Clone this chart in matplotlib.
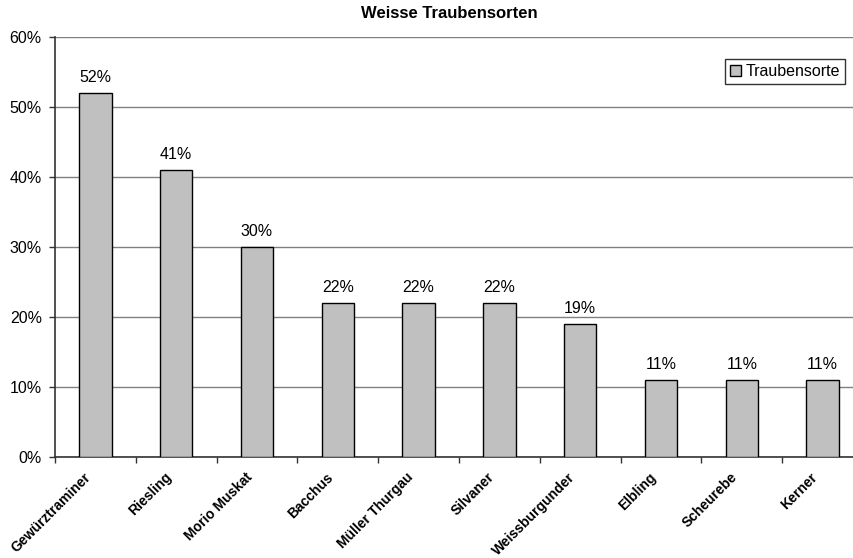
import matplotlib.pyplot as plt
from matplotlib.ticker import FixedLocator, MultipleLocator, FuncFormatter, NullFormatter
from matplotlib.transforms import offset_copy
import numpy as np

plt.rcParams['font.family'] = ['Liberation Sans', 'DejaVu Sans']

sorten = ['Gewürztraminer', 'Riesling', 'Morio Muskat', 'Bacchus', 'Müller Thurgau',
          'Silvaner', 'Weissburgunder', 'Elbling', 'Scheurebe', 'Kerner']
anteil = [52, 41, 30, 22, 22, 22, 19, 11, 11, 11]
serie = 'Traubensorte'
titel = 'Weisse Traubensorten'

fig = plt.figure(figsize=(8.54, 5.58), dpi=100)
ax = fig.add_axes([0.0644, 0.181, 0.9461, 0.7527])

x = np.arange(len(sorten))
ax.bar(x, anteil, width=0.4, color='#C0C0C0', edgecolor='black',
       linewidth=1.0, label=serie, zorder=3)

for xi, v in zip(x, anteil):
    ax.text(xi, v + 1.6, f'{v}%', ha='center', va='baseline', fontsize=11.5)

ax.set_xlim(-0.5, len(sorten) - 0.5)
ax.set_ylim(0, 60)
ax.yaxis.set_major_locator(MultipleLocator(10))
ax.yaxis.set_major_formatter(FuncFormatter(lambda v, p: f'{int(v)}%'))
ax.grid(axis='y', color='#808080', linewidth=1.0, zorder=0)

# category ticks sit between the bars
ax.xaxis.set_major_locator(FixedLocator(np.arange(-0.5, len(sorten), 1.0)))
ax.xaxis.set_major_formatter(NullFormatter())
ax.tick_params(axis='x', length=4, width=1, color='#333333')
ax.tick_params(axis='y', length=4, width=1, color='#333333', labelsize=11.5, pad=5.5)

# rotated category names under each bar
lbl_tr = offset_copy(ax.get_xaxis_transform(), fig=fig, x=-12, y=-13, units='dots')
for xi, name in zip(x, sorten):
    ax.text(xi, 0, name, transform=lbl_tr, rotation=45, rotation_mode='anchor',
            ha='right', va='top', fontsize=10, fontweight='bold')

for s in ('top', 'right'):
    ax.spines[s].set_visible(False)
for s in ('left', 'bottom'):
    ax.spines[s].set_color('#333333')
    ax.spines[s].set_linewidth(1.2)

fig.text(0.526, 0.975, titel, ha='center', va='center', fontsize=12, fontweight='bold')

leg = ax.legend(loc='upper right', bbox_to_anchor=(0.9777, 0.9476), fontsize=11.5,
                frameon=True, fancybox=False, handlelength=0.7, handleheight=0.7,
                handletextpad=0.3, borderpad=0.3, borderaxespad=0)
leg.get_frame().set_edgecolor('black')
leg.get_frame().set_linewidth(1.0)

fig.savefig('out.png', dpi=100)
